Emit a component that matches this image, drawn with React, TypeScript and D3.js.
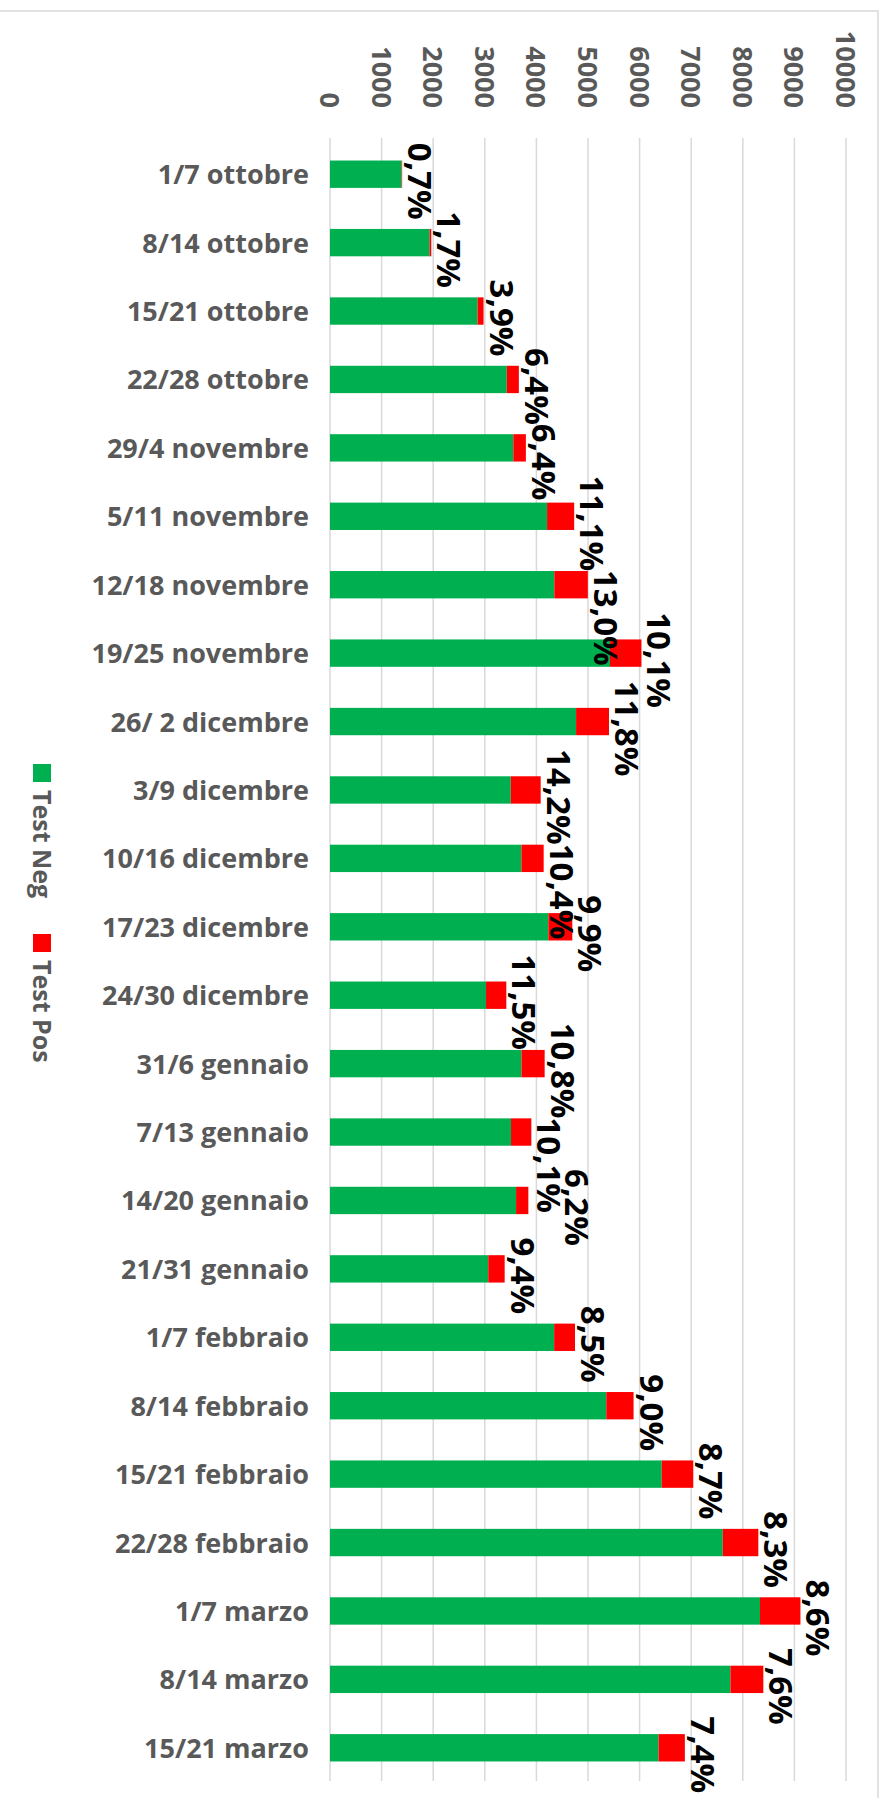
import React from "react";
import * as d3 from "d3";

// weekly swab tests, Test Neg vs Test Pos (chart is drawn rotated, like the source)
const categories = [
  "1/7 ottobre", "8/14 ottobre", "15/21 ottobre", "22/28 ottobre",
  "29/4 novembre", "5/11 novembre", "12/18 novembre", "19/25 novembre",
  "26/ 2 dicembre", "3/9 dicembre", "10/16 dicembre", "17/23 dicembre",
  "24/30 dicembre", "31/6 gennaio", "7/13 gennaio", "14/20 gennaio",
  "21/31 gennaio", "1/7 febbraio", "8/14 febbraio", "15/21 febbraio",
  "22/28 febbraio", "1/7 marzo", "8/14 marzo", "15/21 marzo",
];
const testNeg = [
  1388, 1930, 2860, 3426, 3553, 4207, 4347, 5426, 4769, 3503, 3710, 4231,
  3024, 3711, 3508, 3606, 3067, 4344, 5354, 6428, 7612, 8333, 7760, 6368,
];
const testPos = [
  10, 33, 116, 234, 243, 525, 650, 610, 638, 580, 431, 465,
  393, 449, 394, 238, 318, 404, 529, 612, 689, 784, 638, 509,
];
const pctLabels = [
  "0,7%", "1,7%", "3,9%", "6,4%", "6,4%", "11,1%", "13,0%", "10,1%",
  "11,8%", "14,2%", "10,4%", "9,9%", "11,5%", "10,8%", "10,1%", "6,2%",
  "9,4%", "8,5%", "9,0%", "8,7%", "8,3%", "8,6%", "7,6%", "7,4%",
];
const seriesNames = ["Test Neg", "Test Pos"];
const seriesColors = ["#00b050", "#ff0000"];
const axisMax = 10000;

const W = 887;
const H = 1798;
const FONT = "'Open Sans', sans-serif";
const GREY = "#595959";
const LABEL_SIZE = 33;
const LABEL_THICK = 28; // glyph extent across the rotated label

// rough advance widths for Open Sans Bold, in em
function labelLength(s: string) {
  let w = 0;
  for (const ch of s) w += ch === "," ? 0.29 : ch === "%" ? 0.86 : 0.572;
  return w * LABEL_SIZE;
}

export default function App() {
  const x = d3.scaleLinear().domain([0, axisMax]).range([330, 846]);
  const y = d3
    .scaleBand<string>()
    .domain(categories)
    .range([140, 1782])
    .paddingInner(0.6)
    .paddingOuter(0.3);
  const ticks = x.ticks(10);
  const bw = y.bandwidth();

  // outside-end labels, nudged down (or right) when they collide with the previous one
  const labels: { lx: number; cy: number }[] = [];
  categories.forEach((c, i) => {
    const len = labelLength(pctLabels[i]);
    let lx = x(testNeg[i] + testPos[i]) + 6;
    let cy = (y(c) as number) + bw / 2 + 7;
    const prev = labels[i - 1];
    if (prev) {
      const prevEnd = prev.cy + labelLength(pctLabels[i - 1]) / 2;
      const start = cy - len / 2;
      if (Math.abs(lx - prev.lx) < LABEL_THICK && start < prevEnd) {
        const need = prevEnd - start;
        if (need <= y.step() / 2) cy += need;
        else lx = prev.lx + LABEL_THICK;
      }
    }
    labels.push({ lx, cy });
  });

  return (
    <div style={{ position: "absolute", left: 0, top: 0 }}>
      <svg width={W} height={H} style={{ display: "block", background: "#fff" }}>
        {/* chart frame */}
        <rect x={-5} y={11} width={883} height={H + 20} fill="none" stroke="#d9d9d9" strokeWidth={1.5} />

        {/* gridlines */}
        {ticks.map((t) => (
          <line key={"g" + t} x1={x(t)} x2={x(t)} y1={138} y2={1781} stroke="#d9d9d9" strokeWidth={1.5} />
        ))}

        {/* tick labels, rotated */}
        {ticks.map((t) => (
          <text
            key={"t" + t}
            transform={`translate(${x(t) - 10},108) rotate(90)`}
            textAnchor="end"
            fontFamily={FONT}
            fontWeight={700}
            fontSize={27}
            fill={GREY}
          >
            {t}
          </text>
        ))}

        {/* bars */}
        {categories.map((c, i) => {
          const y0 = y(c) as number;
          const negEnd = x(testNeg[i]);
          const posEnd = x(testNeg[i] + testPos[i]);
          return (
            <g key={c}>
              <rect x={x(0)} y={y0} width={negEnd - x(0)} height={bw} fill={seriesColors[0]} />
              <rect x={negEnd} y={y0} width={posEnd - negEnd} height={bw} fill={seriesColors[1]} />
              <text
                x={309}
                y={y0 + bw / 2 + 10}
                textAnchor="end"
                fontFamily={FONT}
                fontWeight={700}
                fontSize={27}
                fill={GREY}
              >
                {c}
              </text>
            </g>
          );
        })}

        {/* data labels */}
        {labels.map((l, i) => (
          <text
            key={"l" + i}
            transform={`translate(${l.lx},${l.cy}) rotate(90)`}
            textAnchor="middle"
            fontFamily={FONT}
            fontWeight={700}
            fontSize={LABEL_SIZE}
            fill="#000"
          >
            {pctLabels[i]}
          </text>
        ))}

        {/* legend */}
        {seriesNames.map((s, i) => {
          const ly = 764 + i * 170;
          return (
            <g key={s}>
              <rect x={33} y={ly} width={18} height={18} fill={seriesColors[i]} />
              <text
                transform={`translate(33,${ly + 26}) rotate(90)`}
                fontFamily={FONT}
                fontWeight={700}
                fontSize={25}
                fill={GREY}
              >
                {s}
              </text>
            </g>
          );
        })}
      </svg>
    </div>
  );
}
